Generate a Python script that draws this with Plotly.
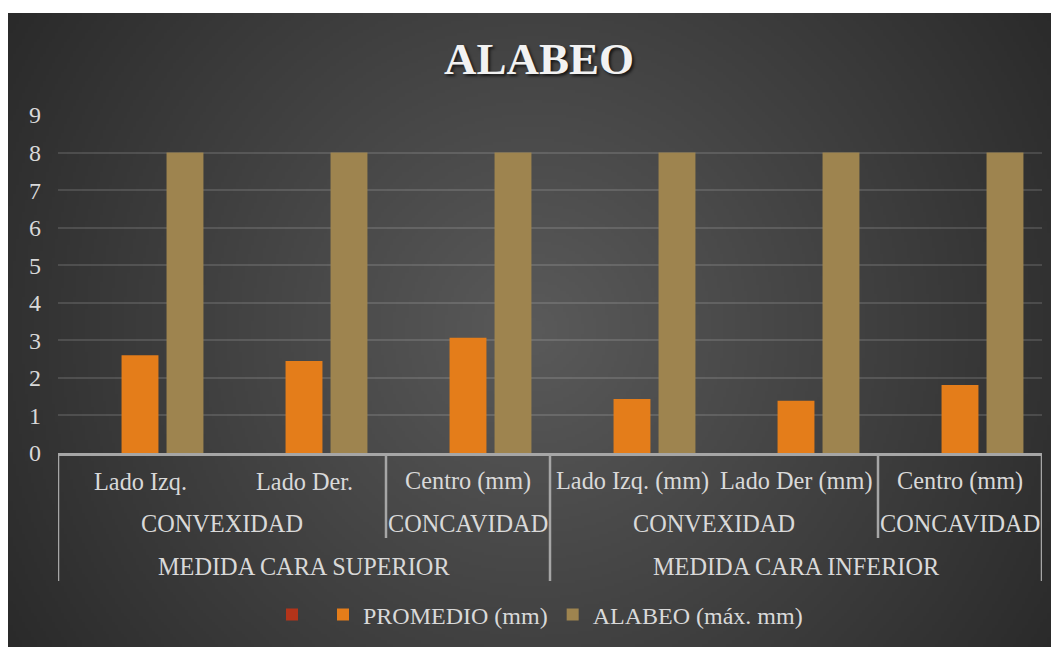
import base64
import struct
import zlib

import numpy as np
import plotly.graph_objects as go

# ---------------- data ----------------
leaf_labels = ["Lado Izq.", "Lado Der.", "Centro (mm)", "Lado Izq. (mm)", "Lado Der (mm)", "Centro (mm)"]
group_labels = ["CONVEXIDAD", "CONCAVIDAD", "CONVEXIDAD", "CONCAVIDAD"]
group_spans = [(0, 1), (2, 2), (3, 4), (5, 5)]
face_labels = ["MEDIDA CARA SUPERIOR", "MEDIDA CARA INFERIOR"]
face_spans = [(0, 2), (3, 5)]

serie_vacia = [0, 0, 0, 0, 0, 0]
promedio_mm = [2.6, 2.45, 3.07, 1.44, 1.39, 1.81]
alabeo_max_mm = [8, 8, 8, 8, 8, 8]

series_names = [" ", "PROMEDIO (mm)", "ALABEO (máx. mm)"]
y_ticks = list(range(0, 10))

# ---------------- styling ----------------
W, H = 1059, 647
OX, OY = 8, 8          # page offset of the figure (body margin)
ML, MR, MT, MB = 58 - OX, 25, 115 - OY, 202
PW, PH = W - ML - MR, H - MT - MB
PLOT_BOTTOM_PAGE = H - MB + OY
FONT = "Liberation Serif"
TXT = "#d9d9d9"


def ypix(py):
    """page pixel y -> paper coordinate"""
    return (PLOT_BOTTOM_PAGE - py) / PH


def xpix(px):
    """page pixel x -> paper coordinate"""
    return (px - (ML + OX)) / PW


def make_bg_png(x0, y0, x1, y1):
    iw, ih = 351, 212
    xs = x0 + (np.arange(iw) + 0.5) * (x1 - x0) / iw
    ys = y0 + (np.arange(ih) + 0.5) * (y1 - y0) / ih
    X, Y = np.meshgrid(xs, ys)
    cx, cy = 533, 330
    R = np.hypot(max(cx - x0, x1 - cx), max(cy - y0, y1 - cy))
    t = np.clip(np.hypot(X - cx, Y - cy) / R, 0, 1)
    v = (0x5a + (0x29 - 0x5a) * t).astype(np.uint8)
    rgb = np.stack([v, v, v], axis=-1)
    raw = b"".join(b"\x00" + rgb[j].tobytes() for j in range(ih))

    def chunk(tag, data):
        c = struct.pack(">I", len(data)) + tag + data
        return c + struct.pack(">I", zlib.crc32(tag + data) & 0xFFFFFFFF)

    png = b"\x89PNG\r\n\x1a\n"
    png += chunk(b"IHDR", struct.pack(">IIBBBBB", iw, ih, 8, 2, 0, 0, 0))
    png += chunk(b"IDAT", zlib.compress(raw, 9))
    png += chunk(b"IEND", b"")
    return "data:image/png;base64," + base64.b64encode(png).decode()


x_idx = list(range(len(leaf_labels)))

fig = go.Figure()
fig.add_bar(x=x_idx, y=serie_vacia, name=series_names[0], marker=dict(color="#B3341A", line_width=0))
fig.add_bar(x=x_idx, y=promedio_mm, name=series_names[1], marker=dict(color="#E47D1A", line_width=0))
fig.add_bar(x=x_idx, y=alabeo_max_mm, name=series_names[2], marker=dict(color="#9E844F", line_width=0))

LBL = dict(family=FONT, size=24.3, color=TXT)
annotations = []
for i, lab in enumerate(leaf_labels):
    annotations.append(dict(x=i, y=ypix(481), xref="x", yref="paper", text=lab, showarrow=False,
                            xanchor="center", yanchor="middle", font=LBL))
for lab, (a, b) in zip(group_labels, group_spans):
    annotations.append(dict(x=(a + b) / 2, y=ypix(523), xref="x", yref="paper", text=lab, showarrow=False,
                            xanchor="center", yanchor="middle", font=LBL))
for lab, (a, b) in zip(face_labels, face_spans):
    annotations.append(dict(x=(a + b) / 2, y=ypix(566), xref="x", yref="paper", text=lab, showarrow=False,
                            xanchor="center", yanchor="middle", font=LBL))

line_style = dict(color="#a6a6a6", width=2.5)
shapes = []
face_edges = sorted({s - 0.5 for s, _ in face_spans} | {e + 0.5 for _, e in face_spans})
group_edges = sorted({s - 0.5 for s, _ in group_spans} | {e + 0.5 for _, e in group_spans})
for xe in face_edges:
    shapes.append(dict(type="line", xref="x", yref="paper", x0=xe, x1=xe, y0=0, y1=ypix(581), line=line_style))
for xe in group_edges:
    if xe in face_edges:
        continue
    shapes.append(dict(type="line", xref="x", yref="paper", x0=xe, x1=xe, y0=0, y1=ypix(538), line=line_style))
# white strip at top of the dark chart area (page y 8..13)
shapes.append(dict(type="rect", xref="paper", yref="paper", x0=xpix(0), x1=xpix(W + 20),
                   y0=ypix(13), y1=ypix(0), fillcolor="white", line_width=0, layer="below"))

BG_X0, BG_Y0, BG_X1, BG_Y1 = 8, 13, W + 10, H + 10

fig.update_layout(
    width=W, height=H,
    margin=dict(l=ML, r=MR, t=MT, b=MB),
    paper_bgcolor="white",
    plot_bgcolor="rgba(0,0,0,0)",
    barmode="group",
    bargap=0.177,
    bargroupgap=0.18,
    title=dict(text="ALABEO", x=(539 - OX) / W, y=1 - (58 - OY) / H, xref="container", yref="container",
               xanchor="center", yanchor="middle",
               font=dict(family="Liberation Serif, Times New Roman, serif", size=45, weight="bold",
                         color="#f2f2f2", shadow="2px 2px 3px rgba(0,0,0,0.7)")),
    xaxis=dict(range=[-0.5, 5.5], showticklabels=False, showgrid=False, zeroline=False,
               showline=True, linecolor="#a6a6a6", linewidth=2.5, ticks=""),
    yaxis=dict(range=[0, 9], tickvals=y_ticks, showgrid=True, gridcolor="rgba(255,255,255,0.13)",
               gridwidth=1.5, zeroline=False, showline=False, ticks="", ticklabelstandoff=16,
               tickfont=dict(family=FONT, size=24, color=TXT)),
    legend=dict(orientation="h", x=xpix(540), xanchor="center", y=ypix(615), yanchor="middle",
                font=dict(family=FONT, size=24, color=TXT), bgcolor="rgba(0,0,0,0)"),
    images=[dict(source=make_bg_png(BG_X0, BG_Y0, BG_X1, BG_Y1), xref="paper", yref="paper",
                 x=xpix(BG_X0), y=ypix(BG_Y0),
                 sizex=(BG_X1 - BG_X0) / PW, sizey=(BG_Y1 - BG_Y0) / PH, sizing="stretch", layer="below",
                 xanchor="left", yanchor="top")],
    annotations=annotations,
    shapes=shapes,
    showlegend=True,
)

fig.write_html("out.html")
